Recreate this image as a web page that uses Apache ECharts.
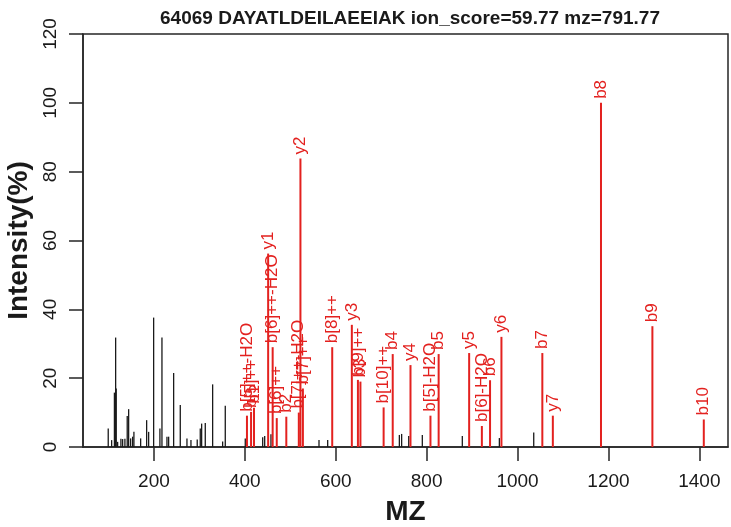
<!DOCTYPE html>
<html>
<head>
<meta charset="utf-8">
<script src="https://cdn.jsdelivr.net/npm/echarts@6/dist/echarts.min.js"></script>
<style>
  html, body { margin: 0; padding: 0; background: #fff; }
  #chart { width: 731px; height: 527px; }
</style>
</head>
<body>
<div id="chart"></div>
<script>
// 未匹配的峰（黑色）
const blackMz = [99.5, 107, 113.1, 115.8, 117.1, 120.2, 127.4, 131.2, 136.2, 141.3, 144.4, 148.8, 153.2, 156,
  170.8, 184, 188.4, 199.4, 213.2, 217.7, 228.7, 232.4, 243.4, 258, 272.7, 281.5, 295.3, 302, 305, 313,
  329.2, 351.2, 357, 401, 439.3, 443.7, 457.5, 563.2, 582.3, 740, 745, 760.6, 790.5, 878.5, 960, 1035.6];
const blackInt = [5.4, 2, 15.8, 31.8, 17, 1.5, 2.4, 2.3, 2.4, 9, 11, 2.5, 3, 4.4,
  2.5, 7.8, 4.4, 37.6, 5.4, 31.8, 3, 3, 21.5, 12.2, 2.5, 2, 2.2, 5.4, 6.8, 7,
  18.2, 1.6, 12, 2.5, 2.8, 3.2, 3.7, 2, 2, 3.5, 3.8, 3.2, 3.5, 3.2, 2.6, 4.2];

// 匹配的离子（红色）
const ionLabels = ['b[5]++-H2O', 'b[5]++', 'b1', 'y1', 'b[6]++-H2O', 'b[6]++', 'b2', 'b[7]++-H2O', 'y2', 'b[7]++',
  'b[8]++', 'y3', 'b[9]++', 'b3', 'b[10]++', 'b4', 'y4', 'b[5]-H2O', 'b5', 'y5', 'b[6]-H2O', 'b6', 'y6',
  'b7', 'y7', 'b8', 'b9', 'b10'];
const ionMz = [404.71, 413.72, 420.24, 451.32, 461.25, 470.26, 491.28, 518.77, 522.36, 527.77,
  592.29, 635.44, 648.83, 654.34, 705.38, 725.38, 764.48, 808.41, 826.42, 893.53, 921.50, 939.51, 964.56,
  1054.54, 1077.65, 1183.58, 1296.66, 1409.75];
const ionInt = [9.1, 10.2, 11.4, 56.2, 29, 8.4, 8.8, 10, 83.8, 17,
  29, 35.5, 19.5, 19, 11.5, 27, 23.8, 9.1, 27, 27.3, 6.1, 19.4, 32,
  27.3, 9.1, 100, 35.1, 8];

const xTicks = [200, 400, 600, 800, 1000, 1200, 1400];

const FONT = '"Liberation Sans", Arial, Helvetica, sans-serif';
const RED = '#e3211f';
const AXIS = '#262626';

const chart = echarts.init(document.getElementById('chart'), null, { renderer: 'canvas' });

// 画竖线峰
function stick(color, width, withLabel) {
  return function (params, api) {
    const base = api.coord([api.value(0), 0]);
    const top = api.coord([api.value(0), api.value(1)]);
    const line = {
      type: 'line',
      shape: { x1: base[0], y1: base[1], x2: top[0], y2: top[1] },
      style: { stroke: color, lineWidth: width }
    };
    if (!withLabel) return line;
    return {
      type: 'group',
      children: [line, {
        type: 'text',
        x: top[0],
        y: top[1] - 4,
        rotation: Math.PI / 2,
        style: {
          text: ionLabels[params.dataIndex],
          fill: color,
          font: '17px ' + FONT,
          align: 'left',
          verticalAlign: 'middle'
        }
      }]
    };
  };
}

const option = {
  animation: false,
  title: {
    text: '64069 DAYATLDEILAEEIAK ion_score=59.77 mz=791.77',
    left: 405,
    top: 4,
    textAlign: 'center',
    textStyle: { fontFamily: FONT, fontWeight: 'bold', fontSize: 19, color: '#1a1a1a' }
  },
  grid: {
    left: 83, right: 3, top: 34, bottom: 80,
    outerBoundsMode: 'none',
    containLabel: false,
    show: true, borderColor: AXIS, borderWidth: 1.5, backgroundColor: '#fff'
  },
  xAxis: {
    type: 'value',
    min: 44, max: 1463,
    name: 'MZ',
    nameLocation: 'middle',
    nameGap: 51,
    nameTextStyle: { fontFamily: FONT, fontWeight: 'bold', fontSize: 28, color: '#1a1a1a' },
    axisLine: { show: true, lineStyle: { color: AXIS, width: 1.5 } },
    axisTick: { show: true, length: 14, customValues: xTicks, lineStyle: { color: AXIS, width: 1.5 } },
    axisLabel: {
      customValues: xTicks, margin: 25, fontFamily: FONT, fontSize: 19, color: '#1a1a1a',
      formatter: v => String(v)
    },
    splitLine: { show: false }
  },
  yAxis: {
    type: 'value',
    min: 0, max: 120, interval: 20,
    name: 'Intensity(%)',
    nameLocation: 'middle',
    nameRotate: 90,
    nameGap: 48,
    nameTextStyle: { fontFamily: FONT, fontWeight: 'bold', fontSize: 28, color: '#1a1a1a' },
    axisLine: { show: true, lineStyle: { color: AXIS, width: 1.5 } },
    axisTick: { show: true, length: 14, lineStyle: { color: AXIS, width: 1.5 } },
    axisLabel: { rotate: 90, margin: 23, fontFamily: FONT, fontSize: 19, color: '#1a1a1a' },
    splitLine: { show: false }
  },
  series: [
    {
      type: 'custom',
      renderItem: stick('#1a1a1a', 1.3, false),
      encode: { x: 0, y: 1 },
      data: blackMz.map((m, i) => [m, blackInt[i]]),
      clip: true,
      z: 2
    },
    {
      type: 'custom',
      renderItem: stick(RED, 2, true),
      encode: { x: 0, y: 1 },
      data: ionMz.map((m, i) => [m, ionInt[i]]),
      clip: false,
      z: 3
    }
  ]
};

chart.setOption(option);
</script>
</body>
</html>
